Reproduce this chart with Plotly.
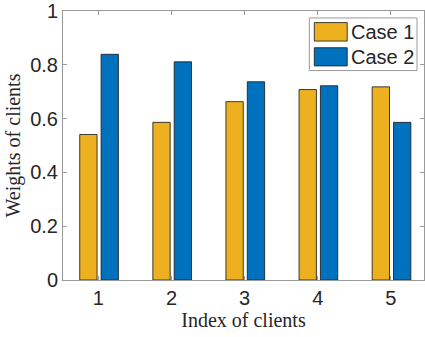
import plotly.graph_objects as go

# Data
clients = [1, 2, 3, 4, 5]
case1 = [0.541, 0.586, 0.663, 0.708, 0.718]
case2 = [0.839, 0.811, 0.737, 0.722, 0.586]
series_names = ["Case 1", "Case 2"]
y_ticks = [0, 0.2, 0.4, 0.6, 0.8, 1]
y_tick_labels = ["0", "0.2", "0.4", "0.6", "0.8", "1"]

# Styling
W, H = 425, 337
M_L, M_R, M_T, M_B = 63, 0, 9, 57
COLORS = ["#EDB120", "#0072BD"]
AXIS_GRAY = "#9a9a9a"
TEXT = "#262626"
SANS = "Liberation Sans, Arial, Helvetica, sans-serif"
SERIF = "Liberation Serif, Times New Roman, serif"
BAR_W = 0.237
OFFSETS = [-0.255, 0.037]

fig = go.Figure()
for name, vals, col, off in zip(series_names, [case1, case2], COLORS, OFFSETS):
    fig.add_bar(
        x=clients, y=vals, name=name, width=BAR_W, offset=off,
        marker=dict(color=col, line=dict(color="rgba(30,30,30,0.85)", width=1)),
        showlegend=False,
    )

axis_common = dict(
    showline=True, linecolor=AXIS_GRAY, linewidth=1, mirror="allticks",
    ticks="inside", ticklen=4, tickcolor=AXIS_GRAY, tickwidth=1,
    showgrid=False, zeroline=False, ticklabeloverflow="allow",
    tickfont=dict(family=SANS, size=20, color=TEXT),
)

fig.update_layout(
    width=W, height=H,
    margin=dict(l=M_L, r=M_R, t=M_T, b=M_B),
    paper_bgcolor="white", plot_bgcolor="white",
    barmode="overlay",
    xaxis=dict(
        range=[0.516, 5.454], tickvals=clients,
        title=dict(text="Index of clients", font=dict(family=SERIF, size=20, color=TEXT), standoff=4),
        **axis_common,
    ),
    yaxis=dict(
        range=[0, 1], tickvals=y_ticks, ticktext=y_tick_labels,
        title=dict(text="Weights of clients", font=dict(family=SERIF, size=20, color=TEXT), standoff=4),
        **axis_common,
    ),
)

# Boxed legend with wide swatches
plot_w = W - M_L - M_R
plot_h = H - M_T - M_B


def px_x(x):
    return (x - M_L) / plot_w


def px_y(y):
    return (H - M_B - y) / plot_h


fig.add_shape(type="rect", xref="paper", yref="paper",
              x0=px_x(310), x1=px_x(418), y0=px_y(69), y1=px_y(16),
              line=dict(color=AXIS_GRAY, width=1), fillcolor="white", layer="above")
rows = [(20.7, 39.3), (46.0, 64.3)]
for name, col, (top, bot) in zip(series_names, COLORS, rows):
    fig.add_shape(type="rect", xref="paper", yref="paper",
                  x0=px_x(315), x1=px_x(348), y0=px_y(bot), y1=px_y(top),
                  line=dict(color="rgba(30,30,30,0.85)", width=1), fillcolor=col, layer="above")
    fig.add_annotation(xref="paper", yref="paper", x=px_x(350), y=px_y((top + bot) / 2),
                       text=name, showarrow=False, xanchor="left", yanchor="middle",
                       font=dict(family=SANS, size=20, color=TEXT))

fig.write_html("out.html")
